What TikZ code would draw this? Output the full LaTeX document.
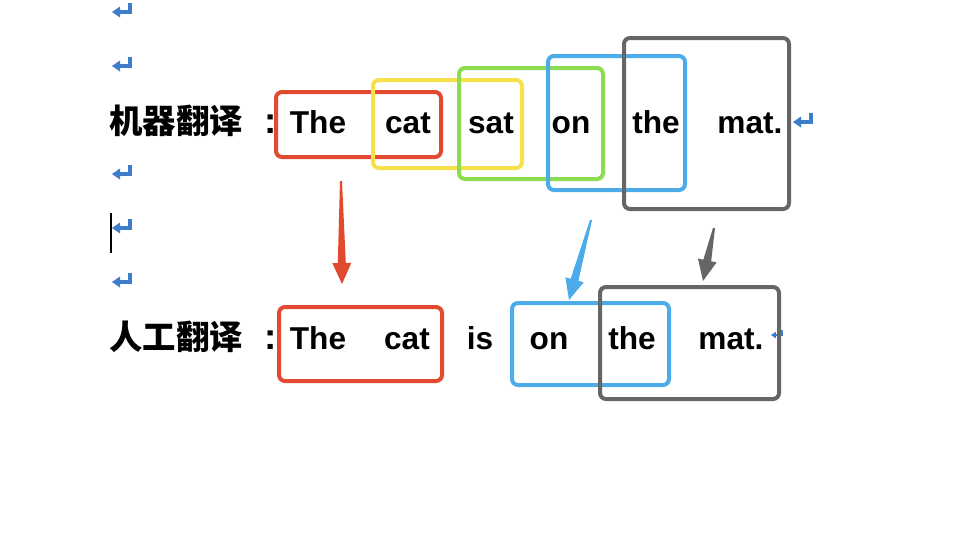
\documentclass[tikz,border=0pt]{standalone}
\usepackage{fontspec}
\setmainfont{Liberation Sans}
\newfontfamily\cjk{Noto Sans CJK SC}
\usetikzlibrary{calc,fit,positioning}

\definecolor{boxred}{RGB}{225,74,46}
\definecolor{boxyellow}{RGB}{247,225,75}
\definecolor{boxgreen}{RGB}{140,220,80}
\definecolor{boxblue}{RGB}{76,172,234}
\definecolor{boxgray}{RGB}{102,102,102}
\definecolor{markblue}{RGB}{62,124,204}

% tapered block arrow: colour, start, tip
\newcommand{\taper}[3]{%
\coordinate (h) at ($(#3)!0.42cm!(#2)$);
\fill[#1] ($(#2)!0.02cm!90:(#3)$) -- ($(h)!0.08cm!90:(#3)$) -- ($(h)!0.19cm!90:(#3)$) -- (#3)
  -- ($(h)!0.19cm!-90:(#3)$) -- ($(h)!0.08cm!-90:(#3)$) -- ($(#2)!0.02cm!-90:(#3)$) -- cycle;}

\begin{document}
\begin{tikzpicture}[x=0.02cm,y=-0.02cm,
  word/.style={font=\fontsize{18}{20}\selectfont\bfseries, anchor=base, inner sep=0},
  colon/.style={font=\fontsize{21}{22}\selectfont\bfseries, anchor=base, inner sep=0},
  label/.style={font=\cjk\fontsize{19}{22}\selectfont\bfseries, anchor=base west, inner sep=0},
  wbox/.style={draw=#1, line width=0.08cm, rounded corners=0.12cm, inner sep=0},
  retmark/.pic={\fill[markblue] (0,0) -- (8,-5.5) -- (8,5.5) -- cycle;
    \draw[markblue, line width=#1] (7,0) -- (18,0) -- (18,-9);}]
\useasboundingbox (0,0) rectangle (974,532);

% paragraph marks
\foreach \y in {12,66,174,228,282}
  \pic at (112,\y) {retmark=0.065cm};
\draw[line width=0.04cm] (111,213) -- (111,253);

% machine translation
\node[label] (mt) at (109,133) {机器翻译};
\node[colon] (mcolon) at (271,133) {:};
\foreach \w/\x [count=\i] in {The/318, cat/408, sat/491, on/571, the/656, mat./750}
  \node[word] (m\i) at (\x,133) {\w};
\pic at (793,122) {retmark=0.065cm};

% human translation
\node[label] (ht) at (109,349) {人工翻译};
\node[colon] (hcolon) at (271,349) {:};
\foreach \w/\x [count=\i] in {The/318, cat/407, is/480, on/549, the/632, mat./731}
  \node[word] (h\i) at (\x,349) {\w};
\pic[scale=0.6] at (771,335) {retmark=0.03cm};

% phrase boxes
\node[wbox=boxred, fit={(276,92) (441,157)}] (mRed) {};
\node[wbox=boxyellow, fit={(373,80) (522,168)}] (mYellow) {};
\node[wbox=boxgreen, fit={(459,68) (603,179)}] (mGreen) {};
\node[wbox=boxblue, fit={(548,56) (685,190)}] (mBlue) {};
\node[wbox=boxgray, fit={(624,38) (789,209)}] (mGray) {};

\node[wbox=boxred, fit={(279,307) (442,381)}] (hRed) {};
\node[wbox=boxblue, fit={(512,303) (669,385)}] (hBlue) {};
\node[wbox=boxgray, fit={(600,287) (779,399)}] (hGray) {};

% alignment arrows
\coordinate (rA) at (341,181); \coordinate (rB) at (342,284);
\coordinate (bA) at (591,220); \coordinate (bB) at (569,300);
\coordinate (gA) at (714,228); \coordinate (gB) at (703,281);
\taper{boxred}{rA}{rB}
\taper{boxblue}{bA}{bB}
\taper{boxgray}{gA}{gB}
\end{tikzpicture}
\end{document}
